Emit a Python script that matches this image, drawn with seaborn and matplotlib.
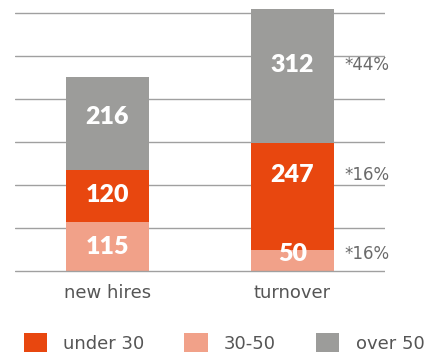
import matplotlib
matplotlib.use("Agg")
import matplotlib.pyplot as plt
from matplotlib.patches import Patch
import numpy as np
import pandas as pd
import seaborn as sns

# Headcount by age band
categories = ["new hires", "turnover"]
under_30 = [120, 247]
band_30_50 = [115, 50]
over_50 = [216, 312]
turnover_rates = ["*16%", "*16%", "*44%"]  # 30-50, under 30, over 50

series_names = ["under 30", "30-50", "over 50"]
colors = {"under 30": "#E8470F", "30-50": "#F1A189", "over 50": "#9C9C9A"}

# where each value label sits inside its segment (fraction of segment height)
label_frac = {
    "30-50": [0.49, 0.80],
    "under 30": [0.52, 0.70],
    "over 50": [0.57, 0.58],
}

sns.set_theme(style="white")
plt.rcParams["font.family"] = ["DejaVu Sans"]

df = pd.DataFrame({
    "category": categories,
    "30-50": band_30_50,
    "under 30": under_30,
    "over 50": over_50,
})
df["lvl1"] = df["30-50"]
df["lvl2"] = df["lvl1"] + df["under 30"]
df["lvl3"] = df["lvl2"] + df["over 50"]

fig = plt.figure(figsize=(4.29, 3.58), dpi=100)
ax = fig.add_axes([15 / 429, 1 - 273 / 358, 370 / 429, 273 / 358])

for y in range(0, 700, 100):
    ax.axhline(y, color="#a0a0a0", lw=1.0, zorder=3 if y == 0 else 0)

# stacked bars drawn back to front as cumulative totals
for col, name in [("lvl3", "over 50"), ("lvl2", "under 30"), ("lvl1", "30-50")]:
    sns.barplot(data=df, x="category", y=col, color=colors[name], width=0.45,
                saturation=1, ax=ax, zorder=2, edgecolor="none")

bottoms = {"30-50": [0, 0], "under 30": list(df["lvl1"]), "over 50": list(df["lvl2"])}
values = {"30-50": band_30_50, "under 30": under_30, "over 50": over_50}
label_y = {}
for name in ["30-50", "under 30", "over 50"]:
    for i in range(len(categories)):
        yv = bottoms[name][i] + values[name][i] * label_frac[name][i]
        label_y[(name, i)] = yv
        ax.text(i, yv, str(values[name][i]), ha="center", va="center",
                color="white", fontsize=18, fontweight="heavy",
                family=["Lato", "DejaVu Sans"], zorder=5)

for name, rate in zip(["30-50", "under 30", "over 50"], turnover_rates):
    ax.text(1.28, label_y[(name, 1)], rate, ha="left", va="center",
            color="#6a6a6a", fontsize=12, zorder=5)

ax.set_xlim(-0.5, 1.5)
ax.set_ylim(-4, 630)
ax.set_xlabel("")
ax.set_ylabel("")
ax.set_yticks([])
ax.tick_params(axis="x", length=0, pad=8, labelsize=13, labelcolor="#555555")
for s in ax.spines.values():
    s.set_visible(False)

handles = [Patch(facecolor=colors[n], edgecolor="none") for n in series_names]
fig.legend(handles, series_names, loc="lower left", bbox_to_anchor=(0.03, -0.015),
           ncol=3, frameon=False, fontsize=13, labelcolor="#555555",
           handlelength=1.3, handleheight=1.3, handletextpad=0.9,
           columnspacing=2.2, borderaxespad=0.2)

fig.savefig("out.png", dpi=100)
